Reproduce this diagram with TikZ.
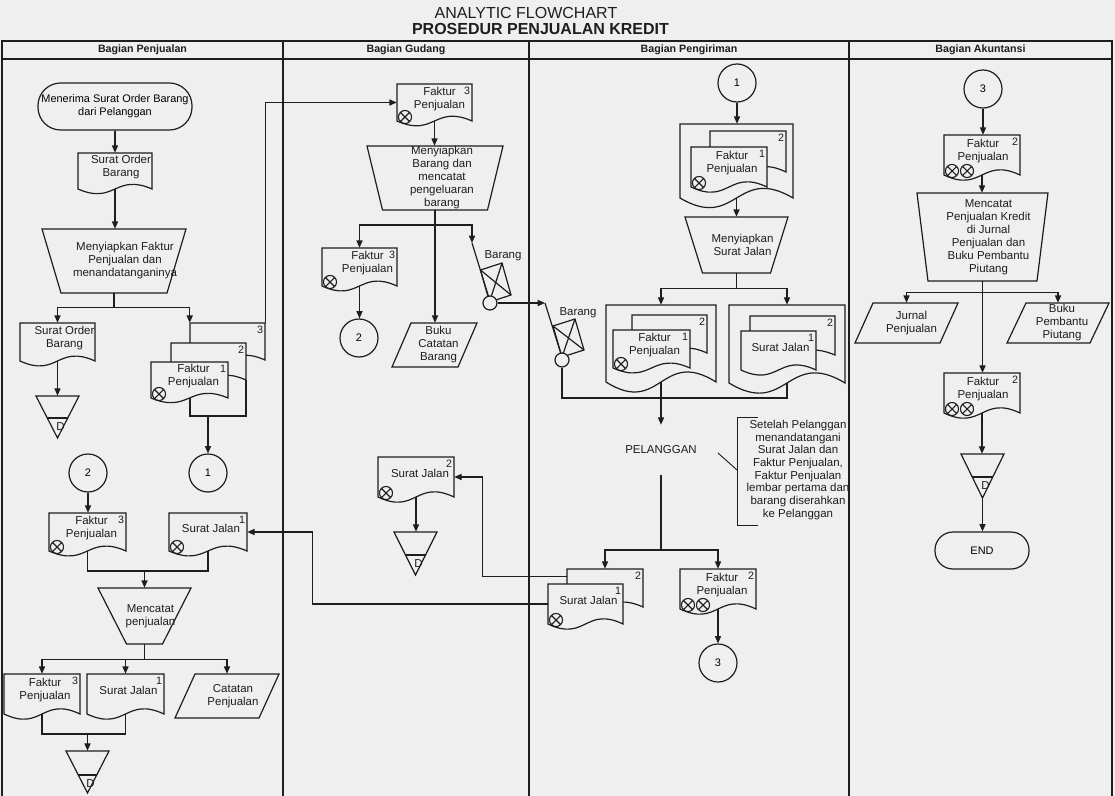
\documentclass[tikz,border=0pt]{standalone}
\usepackage{fontspec}
\setmainfont{Liberation Sans}
\usetikzlibrary{arrows.meta,calc}
\definecolor{bg}{RGB}{239,239,239}
\definecolor{ink}{RGB}{30,30,30}
\tikzset{
 ln/.style={draw=ink, line width=0.9pt},
 arr/.style={ln, -{Triangle[length=5.5pt,width=4.6pt]}},
 shp/.style={ln, fill=bg},
 anch/.style={rectangle, draw=none, inner sep=0pt},
 txt/.style={font=\fontsize{8.6}{9.75}\selectfont, align=center, inner sep=0pt, text=ink},
 numtxt/.style={font=\fontsize{8}{9}\selectfont, inner sep=0pt, text=ink},
 hdr/.style={font=\bfseries\fontsize{8}{9}\selectfont, text=ink, inner sep=0pt},
 circ/.style={circle, shp, minimum size=28.5pt, inner sep=0pt, font=\fontsize{8.2}{9}\selectfont},
 term/.style={rectangle, shp, inner sep=0pt, align=center, font=\fontsize{8.2}{9.75}\selectfont},
 wheel/.style={circle, shp, minimum size=10.5pt, inner sep=0pt},
}
\newcommand{\xcirc}[2]{\draw[ln, line width=0.8pt] ({#1},{#2}) circle[radius=4.9pt] ({#1-4.6},{#2-4.6}) -- ({#1+4.6},{#2+4.6}) ({#1-4.6},{#2+4.6}) -- ({#1+4.6},{#2-4.6});}
% name, x0, y0, w, h, text, number, crosses, dx
\newcommand{\docshape}[9]{%
  \filldraw[shp] (#2,#3) -- ({#2+#4},#3) -- ({#2+#4},{#3+#5})
     .. controls ({#2+0.5*#4},{#3+#5-0.45*#5}) and ({#2+0.5*#4},{#3+#5+0.45*#5}) .. (#2,{#3+#5}) -- cycle;
  \node[anch, minimum width={#4*0.75pt}, minimum height={#5*0.75pt}] (#1) at ({#2+0.5*#4},{#3+0.5*#5}) {};
  \node[txt] (#1-t) at ({#2+0.5*#4+#9},{#3+0.5*#5-3.5}) {#6};
  \node[numtxt] (#1-n) at ({#2+#4-5},{#3+7}) {#7};
  \ifnum#8>0 \xcirc{#2+8}{#3+#5-4}\fi
  \ifnum#8>1 \xcirc{#2+23}{#3+#5-4}\fi
}
% name, cx, ytop, wtop, ybot, wbot, text, dx
\newcommand{\trapez}[8]{%
  \filldraw[shp] ({#2-0.5*#4},#3) -- ({#2+0.5*#4},#3) -- ({#2+0.5*#6},#5) -- ({#2-0.5*#6},#5) -- cycle;
  \node[anch, minimum width={#4*0.75pt}, minimum height={(#5-#3)*0.75pt}] (#1) at (#2,{0.5*(#3+#5)}) {};
  \node[txt] (#1-t) at ({#2+#8},{0.5*(#3+#5)}) {#7};
}
% name, x0, y0, w, h, slant, text, dx
\newcommand{\paral}[8]{%
  \filldraw[shp] ({#2+#6},#3) -- ({#2+#4},#3) -- ({#2+#4-#6},{#3+#5}) -- (#2,{#3+#5}) -- cycle;
  \node[anch, minimum width={#4*0.75pt}, minimum height={#5*0.75pt}] (#1) at ({#2+0.5*#4},{#3+0.5*#5}) {};
  \node[txt] (#1-t) at ({#2+0.5*#4+#8},{#3+0.5*#5}) {#7};
}
% name, x0, y0, w, h, yline
\newcommand{\trimerge}[6]{%
  \filldraw[shp] (#2,#3) -- ({#2+#4},#3) -- ({#2+0.5*#4},{#3+#5}) -- cycle;
  \draw[ln] ({#2+0.5*#4*(#6-#3)/#5},#6) -- ({#2+#4-0.5*#4*(#6-#3)/#5},#6);
  \node[anch, minimum width={#4*0.75pt}, minimum height={#5*0.75pt}] (#1) at ({#2+0.5*#4},{#3+0.5*#5}) {};
  \node[txt] (#1-d) at ({#2+0.5*#4+3},{#6+9}) {D};
}
\begin{document}
\begin{tikzpicture}[x=0.75pt,y=-0.75pt]
\useasboundingbox (0,0) rectangle (1115,796);
\fill[bg] (0,0) rectangle (1115,796);
% titles
\node[txt, font=\fontsize{12}{14}\selectfont, anchor=base] (title1) at (526,18.5) {ANALYTIC FLOWCHART};
\node[txt, font=\bfseries\fontsize{12}{14}\selectfont, anchor=base] (title2) at (540.5,35) {PROSEDUR PENJUALAN KREDIT};
% frame
\draw[ln] (2,796) -- (2,41) -- (1112,41) -- (1112,796);
\draw[ln] (2,59) -- (1112,59);
\foreach \xx in {283,529,849} \draw[ln] (\xx,41) -- (\xx,796);
\node[hdr] (h1) at (142.5,50) {Bagian Penjualan};
\node[hdr] (h2) at (406,50) {Bagian Gudang};
\node[hdr] (h3) at (689,50) {Bagian Pengiriman};
\node[hdr] (h4) at (980.5,50) {Bagian Akuntansi};

% ===== Bagian Penjualan =====
\node[term, rounded corners=17pt, minimum width=115.5pt, minimum height=35.25pt] (tS) at (115,106.5) {Menerima Surat Order Barang\\dari Pelanggan};
\docshape{dSOB}{78}{153}{74}{36}{Surat Order\\Barang}{}{0}{6}
\trapez{tF}{114}{229}{144}{293}{106}{Menyiapkan Faktur\\Penjualan dan\\menandatanganinya}{11}
\docshape{dSOB2}{20}{323}{75}{38}{Surat Order\\Barang}{}{0}{7}
\docshape{s3}{190}{323}{75}{37}{}{3}{0}{0}
\docshape{s2}{171}{343}{75}{37}{}{2}{0}{0}
\docshape{s1}{151}{362}{77}{36}{Faktur\\Penjualan}{1}{1}{4}
\draw[ln] (190,398) -- (190,416) -- (246,416) -- (246,380);
\coordinate (stk) at (208,416);
\trimerge{T1}{36}{396}{43}{42}{418}
\node[circ] (c2a) at (88,473) {2};
\node[circ] (c1a) at (208,473) {1};
\docshape{dF3b}{49}{513}{77}{38}{Faktur\\Penjualan}{3}{1}{4}
\docshape{dSJ1a}{169}{513}{78}{38}{Surat Jalan}{1}{1}{3}
\trapez{tM}{144.5}{588}{93}{644}{36}{Mencatat\\penjualan}{6}
\docshape{dF3c}{4}{674}{76}{40}{Faktur\\Penjualan}{3}{0}{3}
\docshape{dSJ1c}{87}{674}{77}{40}{Surat Jalan}{1}{0}{3}
\paral{pCP}{175}{674}{104}{44}{20}{Catatan\\Penjualan}{6}
\trimerge{T3}{66}{751}{43}{42}{775}

% ===== Bagian Gudang =====
\docshape{dF3g}{397}{84}{75}{37}{Faktur\\Penjualan}{3}{1}{5}
\trapez{tG}{435}{146}{136}{210}{105}{Menyiapkan\\Barang dan\\mencatat\\pengeluaran\\barang}{7}
\docshape{dF3g2}{322}{248}{75}{38}{Faktur\\Penjualan}{3}{1}{8}
\node[circ] (c2g) at (359,338) {2};
\paral{pBCB}{392}{323}{85}{44}{19}{Buku\\Catatan\\Barang}{4}
\coordinate (H1) at (472,243);
\draw[shp] (480.5,270) -- (502,263) -- (511,295) -- (489.5,302) -- cycle;
\draw[ln] (480.5,270) -- (511,295) (502,263) -- (489.5,302);
\draw[ln] (H1) -- (489,298);
\node[wheel] (w1) at (490,303) {};
\node[txt] (bar1) at (503,256) {Barang};
\docshape{dSJ2g}{378}{457}{76}{40}{Surat Jalan}{2}{1}{4}
\trimerge{T2}{394}{532}{43}{43}{555}

% ===== Bagian Pengiriman =====
\node[circ] (c1p) at (737,83) {1};
\docshape{dO1}{680}{124}{113}{74}{}{}{0}{0}
\docshape{p2}{710}{131}{76}{41}{}{2}{0}{0}
\docshape{p1}{691}{147}{76}{40}{Faktur\\Penjualan}{1}{1}{3}
\trapez{tP}{736.5}{217}{103}{273}{68}{Menyiapkan\\Surat Jalan}{6}
\docshape{OL}{606}{305}{110}{77}{}{}{0}{0}
\docshape{L2}{632}{315}{75}{38}{}{2}{0}{0}
\docshape{L1}{613}{330}{77}{38}{Faktur\\Penjualan}{1}{1}{3}
\docshape{OR}{729}{305}{116}{78}{}{}{0}{0}
\docshape{R2}{750}{316}{85}{39}{}{2}{0}{0}
\docshape{R1}{741}{331}{75}{39}{Surat Jalan}{1}{0}{2}
\coordinate (H2) at (545,303);
\draw[shp] (553,326) -- (575,319) -- (584,350) -- (562,357) -- cycle;
\draw[ln] (553,326) -- (584,350) (575,319) -- (562,357);
\draw[ln] (H2) -- (561,354);
\node[wheel] (w2) at (562,360) {};
\node[txt] (bar2) at (578,313) {Barang};
\node[txt, minimum width=45pt, minimum height=37.5pt] (PEL) at (661,450) {PELANGGAN};
\draw[ln, line width=0.7pt] (758,417) -- (737,417) -- (737,525) -- (758,525);
\coordinate (noteA) at (718,453);
\coordinate (noteB) at (737,470);
\draw[ln, line width=0.7pt] (noteA) -- (noteB);
\node[txt, font=\fontsize{8.6}{9.5}\selectfont] (note) at (798,470) {Setelah Pelanggan\\menandatangani\\Surat Jalan dan\\Faktur Penjualan,\\Faktur Penjualan\\lembar pertama dan\\barang diserahkan\\ke Pelanggan};
\docshape{B2}{567}{569}{76}{38}{}{2}{0}{0}
\docshape{B1}{548}{584}{75}{40}{Surat Jalan}{1}{1}{3}
\docshape{dF2p}{680}{569}{76}{40}{Faktur\\Penjualan}{2}{2}{4}
\node[circ] (c3p) at (718,663) {3};

% ===== Bagian Akuntansi =====
\node[circ] (c3a) at (983,89) {3};
\docshape{dF2a}{944}{135}{76}{40}{Faktur\\Penjualan}{2}{2}{1}
\trapez{tA}{982.5}{193}{131}{281}{109}{Mencatat\\Penjualan Kredit\\di Jurnal\\Penjualan dan\\Buku Pembantu\\Piutang}{6}
\paral{pJ}{855}{303}{103}{40}{18}{Jurnal\\Penjualan}{5}
\paral{pB}{1007}{303}{102}{40}{19}{Buku\\Pembantu\\Piutang}{4}
\docshape{dF2a2}{944}{373}{76}{40}{Faktur\\Penjualan}{2}{2}{1}
\trimerge{T4}{961}{454}{43}{44}{477}
\node[term, rounded corners=13.5pt, minimum width=70.5pt, minimum height=27.75pt] (END) at (982,550.5) {END};

% ===== connectors =====
\draw[arr] (tS.south) -- (dSOB.north);
\draw[arr] (dSOB.south) -- (dSOB.south |- tF.north);
\coordinate (j1) at ($(tF.south)+(0,14)$);
\draw[ln] (tF.south) -- (j1);
\draw[arr] (j1) -| (dSOB2.north);
\draw[arr] (j1) -| (s3.north west);
\draw[arr] (dSOB2.south) -- (T1.north);
\draw[arr] (s3.north east) |- (dF3g.west);
\draw[arr] (stk) -- (c1a.north);
\draw[arr] (c2a.south) -- (c2a.south |- dF3b.north);
\draw[ln] (dF3b.south) |- (tM.north |- 0,571) -| (dSJ1a.south);
\draw[arr] (tM.north |- 0,571) -- (tM.north);
\coordinate (j2) at ($(tM.south)+(0,15)$);
\draw[ln] (tM.south) -- (j2);
\draw[arr] (j2) -| (dF3c.north);
\draw[arr] (j2) -| (dSJ1c.north);
\draw[arr] (j2) -| (pCP.north);
\draw[ln] (dF3c.south) |- (T3.north |- 0,734) -| (dSJ1c.south);
\draw[arr] (T3.north |- 0,734) -- (T3.north);

\draw[arr] (dF3g.south) -- (dF3g.south |- tG.north);
\draw[arr] (tG.south) -- (tG.south |- pBCB.north);
\coordinate (j3) at (tG.south |- 0,225);
\draw[arr] (j3) -| (dF3g2.north);
\draw[arr] (j3) -| (H1);
\draw[arr] (dF3g2.south) -- (dF3g2.south |- c2g.north);
\draw[arr] (w1.east) -- (H2);
\draw[arr] (dSJ2g.south) -- (dSJ2g.south |- T2.north);

\draw[arr] (c1p.south) -- (c1p.south |- dO1.north);
\draw[arr] (dO1.south) -- (dO1.south |- tP.north);
\coordinate (j4) at ($(tP.south)+(0,15)$);
\draw[ln] (tP.south) -- (j4);
\draw[arr] (j4) -| (OL.north);
\draw[arr] (j4) -| (OR.north);
\draw[ln] (w2.south) |- (OR.south |- 0,398) -- (OR.south);
\draw[arr] (OL.south) -- (OL.south |- PEL.north);
\coordinate (j5) at (PEL.south |- 0,550);
\draw[ln] (PEL.south) -- (j5);
\draw[arr] (j5) -| (B2.north);
\draw[arr] (j5) -| (dF2p.north);
\draw[arr] ($(B2.north west)+(0,8)$) -- ++(-84,0) |- (dSJ2g.east);
\draw[arr] (B1.west) -- ++(-235,0) |- (dSJ1a.east);
\draw[arr] (dF2p.south) -- (dF2p.south |- c3p.north);

\draw[arr] (c3a.south) -- (c3a.south |- dF2a.north);
\draw[arr] (dF2a.south) -- (dF2a.south |- tA.north);
\draw[arr] (tA.south) -- (tA.south |- dF2a2.north);
\coordinate (j6) at ($(tA.south)+(0,11)$);
\draw[arr] (j6) -| (pJ.north);
\draw[arr] (j6) -| (pB.north);
\draw[arr] (dF2a2.south) -- (dF2a2.south |- T4.north);
\draw[arr] (T4.south) -- (T4.south |- END.north);
\end{tikzpicture}
\end{document}
